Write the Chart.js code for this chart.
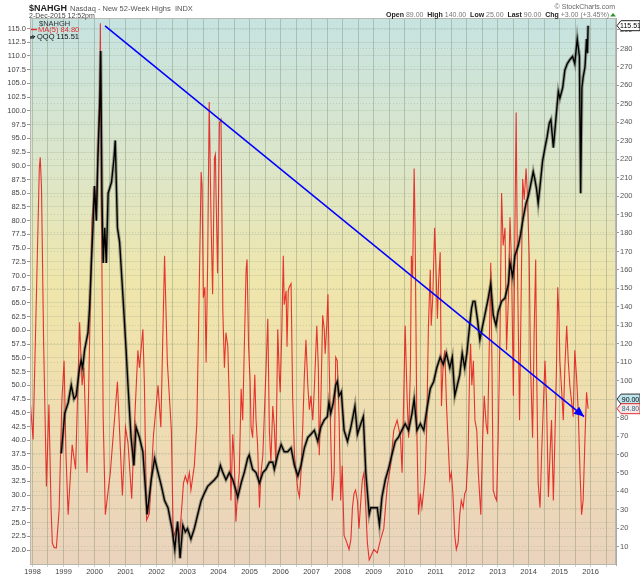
<!DOCTYPE html>
<html><head><meta charset="utf-8">
<script src="https://cdn.jsdelivr.net/npm/chart.js@4.4.1/dist/chart.umd.min.js"></script>
<style>html,body{margin:0;padding:0;background:#fff}#c{display:block}</style>
</head><body>
<canvas id="c" width="640" height="576"></canvas>
<script>
// ---- DATA ----
const maYears = [1997.91,1998.02,1998.18,1998.22,1998.25,1998.29,1998.36,1998.45,1998.53,1998.60,1998.64,1998.70,1998.77,1998.86,1998.95,1999.02,1999.08,1999.15,1999.28,1999.39,1999.52,1999.60,1999.66,1999.76,1999.84,1999.92,2000.00,2000.06,2000.12,2000.17,2000.19,2000.22,2000.28,2000.35,2000.51,2000.74,2000.90,2001.00,2001.08,2001.20,2001.30,2001.40,2001.45,2001.56,2001.61,2001.68,2001.77,2001.90,2002.05,2002.14,2002.26,2002.35,2002.48,2002.54,2002.63,2002.69,2002.74,2002.79,2002.87,2002.93,2003.00,2003.06,2003.11,2003.22,2003.30,2003.36,2003.44,2003.47,2003.51,2003.56,2003.60,2003.65,2003.70,2003.76,2003.81,2003.87,2003.90,2003.92,2003.97,2004.03,2004.08,2004.14,2004.19,2004.24,2004.30,2004.35,2004.40,2004.46,2004.51,2004.56,2004.62,2004.67,2004.73,2004.78,2004.83,2004.89,2004.92,2004.97,2005.02,2005.05,2005.10,2005.17,2005.21,2005.26,2005.32,2005.37,2005.43,2005.48,2005.53,2005.59,2005.64,2005.69,2005.75,2005.80,2005.85,2005.91,2005.96,2005.99,2006.04,2006.09,2006.12,2006.18,2006.21,2006.25,2006.28,2006.34,2006.39,2006.45,2006.50,2006.56,2006.61,2006.66,2006.72,2006.77,2006.82,2006.88,2006.93,2006.98,2007.04,2007.09,2007.17,2007.22,2007.25,2007.30,2007.36,2007.41,2007.44,2007.49,2007.53,2007.56,2007.62,2007.67,2007.73,2007.78,2007.83,2007.89,2007.94,2007.99,2008.05,2008.10,2008.21,2008.27,2008.32,2008.37,2008.42,2008.48,2008.53,2008.59,2008.64,2008.69,2008.75,2008.80,2008.86,2008.91,2009.01,2009.12,2009.23,2009.33,2009.44,2009.55,2009.65,2009.76,2009.87,2009.92,2009.97,2010.02,2010.08,2010.13,2010.19,2010.22,2010.26,2010.31,2010.34,2010.40,2010.45,2010.51,2010.56,2010.62,2010.67,2010.72,2010.77,2010.83,2010.86,2010.91,2010.97,2011.01,2011.06,2011.10,2011.15,2011.19,2011.25,2011.30,2011.35,2011.40,2011.46,2011.51,2011.56,2011.62,2011.67,2011.73,2011.78,2011.83,2011.89,2011.94,2011.99,2012.05,2012.10,2012.13,2012.17,2012.22,2012.27,2012.33,2012.38,2012.46,2012.52,2012.57,2012.63,2012.68,2012.74,2012.78,2012.82,2012.86,2012.92,2012.97,2013.02,2013.08,2013.13,2013.18,2013.24,2013.29,2013.35,2013.40,2013.45,2013.51,2013.56,2013.60,2013.64,2013.71,2013.76,2013.81,2013.86,2013.92,2013.96,2014.02,2014.06,2014.13,2014.18,2014.23,2014.26,2014.31,2014.37,2014.42,2014.48,2014.53,2014.58,2014.64,2014.69,2014.74,2014.80,2014.85,2014.90,2014.94,2014.98,2015.01,2015.07,2015.12,2015.17,2015.23,2015.28,2015.33,2015.39,2015.44,2015.49,2015.55,2015.60,2015.66,2015.71,2015.76,2015.82,2015.87,2015.92];
const maValues = [92.8,68.1,185,215,221,205,120,42.6,87.1,30,12,9.5,9.4,30,90,110.8,60,27.4,65.3,52,131.6,97.5,107,50.1,120,186.6,205.5,190.4,232,260,293.7,200,80,27.4,50.1,99.4,37.8,74.8,66.3,36,80,116.5,107,127.8,97.5,24.4,28,70,97.5,74.8,167.6,110,72.9,14.5,19.8,20,14.5,25.5,44.5,48.3,44.5,50.1,40.7,53.9,76.7,131.6,213.1,205.5,144.9,150.6,109.8,163.9,251,186.6,146.8,220.7,222.6,201.7,158.2,239.7,241.5,137.3,107,126,118.4,88.1,35,71,55.8,23.6,40.7,50.1,95.6,78.6,116.5,160.1,165.7,118.4,99.4,74.8,69.1,103.2,78.6,65.3,31.2,50.1,59.6,82.4,105.1,133.5,72.9,55.8,86.2,74.8,53.9,127.8,103.2,93.7,126,167.6,141.1,148.7,118.4,148.7,150.6,152.5,91.8,59.6,50.1,40.7,36.9,50.1,76.7,103.2,122.2,97.5,84.3,91.8,78.6,95.6,129.7,107,59.6,88.1,135.4,128,114.6,129.7,146.8,116.5,69.1,35,50.1,112.7,110.8,78.6,35,53.9,16,14.1,8.5,14.1,31.2,38.8,40.7,35,19.8,35,46.4,50.1,31.2,12.3,2.8,4.7,8.5,6.6,14.1,19.8,42.6,53.9,72.9,78.6,69.1,50.1,88.1,129.7,91.8,69.1,107,167.6,156.3,215,182.8,69.1,27.4,38.8,31.2,40.7,50.1,78.6,129.7,160.1,129.7,144.9,182.8,163.9,133.5,154.4,169.5,86.2,110.8,116.5,88.1,69.1,46.4,50.1,38.8,16,8.5,12.3,27.4,35,31.2,38.8,40.7,59.6,107,120,97.5,110.8,78.6,72.9,50.1,27.4,69.1,91.8,76.7,71,126,163.9,107,40.7,36.9,35,69.1,126,201.7,173.3,182.8,116.5,144.9,188.5,163.9,91.8,182.8,245.3,163.9,78.6,144.9,209.3,198,215,201.7,167.6,110.8,69.1,126,165.7,107,44.5,31.2,59.6,88.1,110.8,88.1,36.9,59.6,78.6,35,69.1,107,150.6,135.4,110.8,93.7,78.6,107,129.7,110.8,97.5,88.1,80.5,116.5,101.3,84.3,50.1,27.4,35,69.1,93.7,84.8];

const qqqYears = [1998.93,1999.04,1999.15,1999.25,1999.34,1999.41,1999.52,1999.57,1999.62,1999.68,1999.79,1999.84,1999.90,1999.95,2000.00,2000.06,2000.11,2000.17,2000.20,2000.24,2000.28,2000.33,2000.38,2000.44,2000.55,2000.63,2000.67,2000.74,2000.81,2000.92,2001.02,2001.08,2001.18,2001.27,2001.34,2001.45,2001.56,2001.70,2001.83,2001.94,2002.05,2002.16,2002.26,2002.37,2002.50,2002.59,2002.63,2002.68,2002.76,2002.85,2002.93,2003.00,2003.11,2003.22,2003.33,2003.44,2003.54,2003.65,2003.76,2003.87,2003.97,2004.06,2004.14,2004.24,2004.35,2004.46,2004.56,2004.62,2004.73,2004.83,2004.94,2004.99,2005.10,2005.21,2005.32,2005.43,2005.53,2005.64,2005.75,2005.80,2005.91,2006.02,2006.12,2006.23,2006.34,2006.45,2006.56,2006.66,2006.77,2006.88,2006.98,2007.09,2007.20,2007.30,2007.41,2007.51,2007.56,2007.62,2007.70,2007.78,2007.83,2007.89,2007.96,2008.05,2008.16,2008.27,2008.40,2008.48,2008.59,2008.67,2008.75,2008.86,2008.91,2009.01,2009.12,2009.19,2009.27,2009.38,2009.48,2009.59,2009.70,2009.80,2009.91,2010.02,2010.13,2010.24,2010.31,2010.40,2010.51,2010.62,2010.72,2010.83,2010.94,2011.04,2011.15,2011.25,2011.35,2011.46,2011.54,2011.62,2011.70,2011.78,2011.86,2011.94,2012.01,2012.10,2012.16,2012.21,2012.27,2012.35,2012.43,2012.52,2012.59,2012.70,2012.78,2012.86,2012.95,2013.02,2013.13,2013.24,2013.35,2013.40,2013.49,2013.56,2013.67,2013.74,2013.83,2013.92,2013.99,2014.06,2014.15,2014.20,2014.26,2014.31,2014.37,2014.45,2014.53,2014.60,2014.67,2014.72,2014.80,2014.88,2014.96,2015.01,2015.10,2015.17,2015.25,2015.33,2015.42,2015.49,2015.57,2015.64,2015.68,2015.72,2015.76,2015.82,2015.87,2015.90,2015.92];
const qqqValues = [37.6,44.9,46.8,50,47.5,48.1,53.2,54.5,53.2,56.4,59.6,64,72.3,78.7,86.3,80,91.4,101,110.9,85,72.3,78.7,72.3,85,87,91.4,94.6,78.7,76.1,66,56.4,50,40.5,35.4,42.4,40.5,37.9,26.5,32.8,36.7,34.1,31.6,29,27.7,23.9,20.1,22.6,25.2,18.5,24.5,23.3,23.9,22,23.9,26.5,29,30.3,31.6,32.2,32.8,33.5,35.4,34.1,32.8,34.1,32.8,30.9,29.6,32.2,34.1,36.7,37.3,34.7,34.1,32.2,34.1,34.7,36,36,34.7,37.3,39.2,37.9,37.9,38.6,35.4,33.5,35.4,38.6,40.5,41.1,41.8,39.8,42.4,43.7,44.3,46.8,44.9,46.8,50,50.7,48.1,48.8,41.8,39.8,42.4,46.2,41.1,43,44.3,34.1,26.5,27.7,27.7,27.7,24.6,29.6,32.8,34.7,37.3,39.8,40.5,41.8,43,41.8,44.9,47.5,41.8,43,41.8,45.6,49.4,50.7,53.2,55.1,53.8,55.8,53.2,55.1,48.1,50,51.9,55.8,53.2,55.8,60.9,64,65.3,65.3,62.1,58.3,60.9,62.8,65.9,68.5,62.8,60.9,63.4,65.3,65.9,68.5,72.3,69.8,73.6,75.5,77.4,80.6,83.2,84.4,86.3,88.9,87.6,85.7,83.2,86.3,90.8,93.3,95.3,97.8,98.4,93.3,98.4,103.5,102.3,104.2,107.4,108.6,109.3,109.9,108.6,113.1,109.9,85,104.2,106.1,108,113.1,110.5,115.51];

const trendYears = [2000.34, 2015.79];
const trendValues = [292.2, 80.5];

const yearTicks = [1998,1999,2000,2001,2002,2003,2004,2005,2006,2007,2008,2009,2010,2011,2012,2013,2014,2015,2016];
const leftTicks = [20,22.5,25,27.5,30,32.5,35,37.5,40,42.5,45,47.5,50,52.5,55,57.5,60,62.5,65,67.5,70,72.5,75,77.5,80,82.5,85,87.5,90,92.5,95,97.5,100,102.5,105,107.5,110,112.5,115];
const rightTicks = [10,20,30,40,50,60,70,80,90,100,110,120,130,140,150,160,170,180,190,200,210,220,230,240,250,260,270,280,290];

const lastQQQ = 115.51, lastNAHGH = 90.00, lastMA = 84.80;

// ---- CHART ----
const FONT = '"Liberation Sans", Arial, sans-serif';
const pts = (xs, ys) => xs.map((x, i) => ({x: x, y: ys[i]}));
const gridTicks = yearTicks.flatMap(y => [y, y + 0.5]).filter(v => v <= 2016.8);

const bgPlugin = {
  id: 'bg',
  beforeDraw(chart) {
    const {ctx, chartArea: a} = chart;
    ctx.save();
    ctx.fillStyle = '#fff';
    ctx.fillRect(0, 0, chart.width, chart.height);
    const g = ctx.createLinearGradient(0, a.top, 0, a.bottom);
    g.addColorStop(0, '#c6e3e1');
    g.addColorStop(0.28, '#dde6c8');
    g.addColorStop(0.48, '#efe6ac');
    g.addColorStop(0.62, '#f0e1ad');
    g.addColorStop(1, '#ead3bd');
    ctx.fillStyle = g;
    ctx.fillRect(a.left, a.top, a.right - a.left, a.bottom - a.top);
    ctx.restore();
  }
};

function tag(ctx, x, y, text, fill, stroke, color) {
  ctx.beginPath();
  ctx.moveTo(x, y);
  ctx.lineTo(x + 4, y - 5);
  ctx.lineTo(x + 23, y - 5);
  ctx.lineTo(x + 23, y + 5);
  ctx.lineTo(x + 4, y + 5);
  ctx.closePath();
  ctx.fillStyle = fill; ctx.fill();
  ctx.strokeStyle = stroke; ctx.lineWidth = 1; ctx.stroke();
  ctx.fillStyle = color;
  ctx.font = '7px ' + FONT;
  ctx.textAlign = 'center'; ctx.textBaseline = 'middle';
  ctx.fillText(text, x + 13.5, y + 0.5);
}

const overlayPlugin = {
  id: 'overlay',
  afterDatasetsDraw(chart) {
    const ctx = chart.ctx;
    const meta = chart.getDatasetMeta(0);
    const p0 = meta.data[meta.data.length - 2], p1 = meta.data[meta.data.length - 1];
    const ang = Math.atan2(p1.y - p0.y, p1.x - p0.x);
    ctx.save();
    ctx.fillStyle = '#0000ff';
    ctx.translate(p1.x, p1.y);
    ctx.rotate(ang);
    ctx.beginPath();
    ctx.moveTo(0, 0); ctx.lineTo(-10, -4.5); ctx.lineTo(-10, 4.5); ctx.closePath();
    ctx.fill();
    ctx.restore();
  },
  afterDraw(chart) {
    const {ctx, chartArea: a} = chart;
    ctx.save();
    ctx.strokeStyle = '#b8b8b0'; ctx.lineWidth = 1;
    ctx.strokeRect(a.left + 0.5, a.top + 0.5, a.right - a.left - 1, a.bottom - a.top - 1);

    // header
    ctx.textAlign = 'left'; ctx.textBaseline = 'alphabetic';
    ctx.fillStyle = '#222';
    ctx.font = 'bold 9px ' + FONT;
    ctx.fillText('$NAHGH', 29, 10.5);
    const w = ctx.measureText('$NAHGH').width;
    ctx.font = '7.5px ' + FONT; ctx.fillStyle = '#555';
    ctx.fillText('Nasdaq - New 52-Week Highs  INDX', 29 + w + 3, 10.5);
    ctx.fillStyle = '#444'; ctx.font = '7px ' + FONT;
    ctx.fillText('2-Dec-2015 12:52pm', 29, 17.5);

    ctx.textAlign = 'right'; ctx.fillStyle = '#666'; ctx.font = '7px ' + FONT;
    ctx.fillText('\u00A9 StockCharts.com', 615, 9);
    const segs = [['Open ', 1], ['89.00  ', 0], ['High ', 1], ['140.00  ', 0], ['Low ', 1], ['25.00  ', 0], ['Last ', 1], ['90.00  ', 0], ['Chg ', 1], ['+3.00 (+3.45%)', 0]];
    let tot = 0;
    segs.forEach(s => { ctx.font = (s[1] ? 'bold ' : '') + '7px ' + FONT; tot += ctx.measureText(s[0]).width; });
    let x = 609 - tot;
    ctx.textAlign = 'left';
    segs.forEach(s => {
      ctx.font = (s[1] ? 'bold ' : '') + '7px ' + FONT;
      ctx.fillStyle = s[1] ? '#222' : '#777';
      ctx.fillText(s[0], x, 17);
      x += ctx.measureText(s[0]).width;
    });
    ctx.fillStyle = '#2a9a2a';
    ctx.beginPath(); ctx.moveTo(610, 16.5); ctx.lineTo(616, 16.5); ctx.lineTo(613, 13); ctx.closePath(); ctx.fill();

    // legend
    ctx.font = '7.5px ' + FONT; ctx.textBaseline = 'alphabetic';
    ctx.fillStyle = '#333';
    ctx.fillText('$NAHGH', 39, 25.5);
    ctx.strokeStyle = '#e03030'; ctx.lineWidth = 1.5;
    ctx.beginPath(); ctx.moveTo(31, 29.5); ctx.lineTo(37, 29.5); ctx.stroke();
    ctx.fillStyle = '#e03030';
    ctx.fillText('MA(5) ' + lastMA.toFixed(2), 38, 32);
    ctx.strokeStyle = '#000'; ctx.lineWidth = 1;
    ctx.beginPath();
    ctx.moveTo(31, 36); ctx.lineTo(31, 39); ctx.moveTo(31, 37.5); ctx.lineTo(33, 35.5); ctx.lineTo(33, 38.5); ctx.lineTo(35, 36);
    ctx.stroke();
    ctx.fillStyle = '#111';
    ctx.fillText('QQQ ' + lastQQQ.toFixed(2), 37, 38.5);

    // value tags
    const yL = chart.scales.y, yR = chart.scales.yR;
    tag(ctx, a.right + 1, yL.getPixelForValue(lastQQQ), lastQQQ.toFixed(2), '#ffffff', '#222', '#000');
    tag(ctx, a.right + 1, yR.getPixelForValue(lastNAHGH), lastNAHGH.toFixed(2), '#bfe6ee', '#333', '#000');
    tag(ctx, a.right + 1, yR.getPixelForValue(lastMA), lastMA.toFixed(2), '#fbe6e6', '#d83030', '#2a6f8a');
    ctx.restore();
  }
};

new Chart(document.getElementById('c'), {
  type: 'line',
  data: {
    datasets: [
      {label: 'trend', data: pts(trendYears, trendValues), yAxisID: 'yR', borderColor: '#0000ff', borderWidth: 1.5, pointRadius: 0},
      {label: 'QQQ', data: pts(qqqYears, qqqValues), yAxisID: 'y', borderColor: '#000', borderWidth: 1.4, pointRadius: 0},
      {label: 'QQQ range', data: pts(qqqYears, qqqValues), yAxisID: 'y', borderColor: 'rgba(70,70,60,0.45)', borderWidth: 3.4, pointRadius: 0},
      {label: 'MA(5)', data: pts(maYears, maValues), yAxisID: 'yR', borderColor: 'rgba(228,22,22,0.85)', borderWidth: 1.1, pointRadius: 0}
    ]
  },
  options: {
    responsive: false,
    animation: false,
    devicePixelRatio: 1,
    layout: {padding: {top: 18, left: 0, right: 0, bottom: 0}},
    plugins: {legend: {display: false}, tooltip: {enabled: false}},
    elements: {line: {tension: 0}},
    scales: {
      x: {
        type: 'linear', min: 1997.92, max: 2016.82,
        afterBuildTicks(s) { s.ticks = gridTicks.map(v => ({value: v})); },
        afterFit(s) { s.height = 11; },
        ticks: {
          callback: v => (Number.isInteger(v) ? String(v) : ''),
          maxRotation: 0, autoSkip: false, padding: 0, color: '#444',
          font: {family: FONT, size: 7.5}
        },
        grid: {color: 'rgba(120,135,110,0.38)', tickLength: 2},
        border: {display: false}
      },
      y: {
        type: 'linear', position: 'left', min: 17.27, max: 116.91,
        afterBuildTicks(s) { s.ticks = leftTicks.map(v => ({value: v})); },
        afterFit(s) { s.width = 30; },
        ticks: {callback: v => v.toFixed(1), padding: 1, color: '#444', font: {family: FONT, size: 7.5}},
        grid: {color: 'rgba(120,135,110,0.16)', tickLength: 3, tickColor: '#999'},
        border: {display: false}
      },
      yR: {
        type: 'linear', position: 'right', min: 0.1, max: 296.5,
        afterBuildTicks(s) { s.ticks = rightTicks.map(v => ({value: v})); },
        afterFit(s) { s.width = 24; },
        ticks: {callback: v => String(v), padding: 1, color: '#555', font: {family: FONT, size: 7.5}},
        grid: {color: 'rgba(120,135,110,0.26)', tickLength: 3, tickColor: '#999'},
        border: {display: true, color: '#aaa', dash: [1, 2]}
      }
    }
  },
  plugins: [bgPlugin, overlayPlugin]
});
</script>
</body></html>
